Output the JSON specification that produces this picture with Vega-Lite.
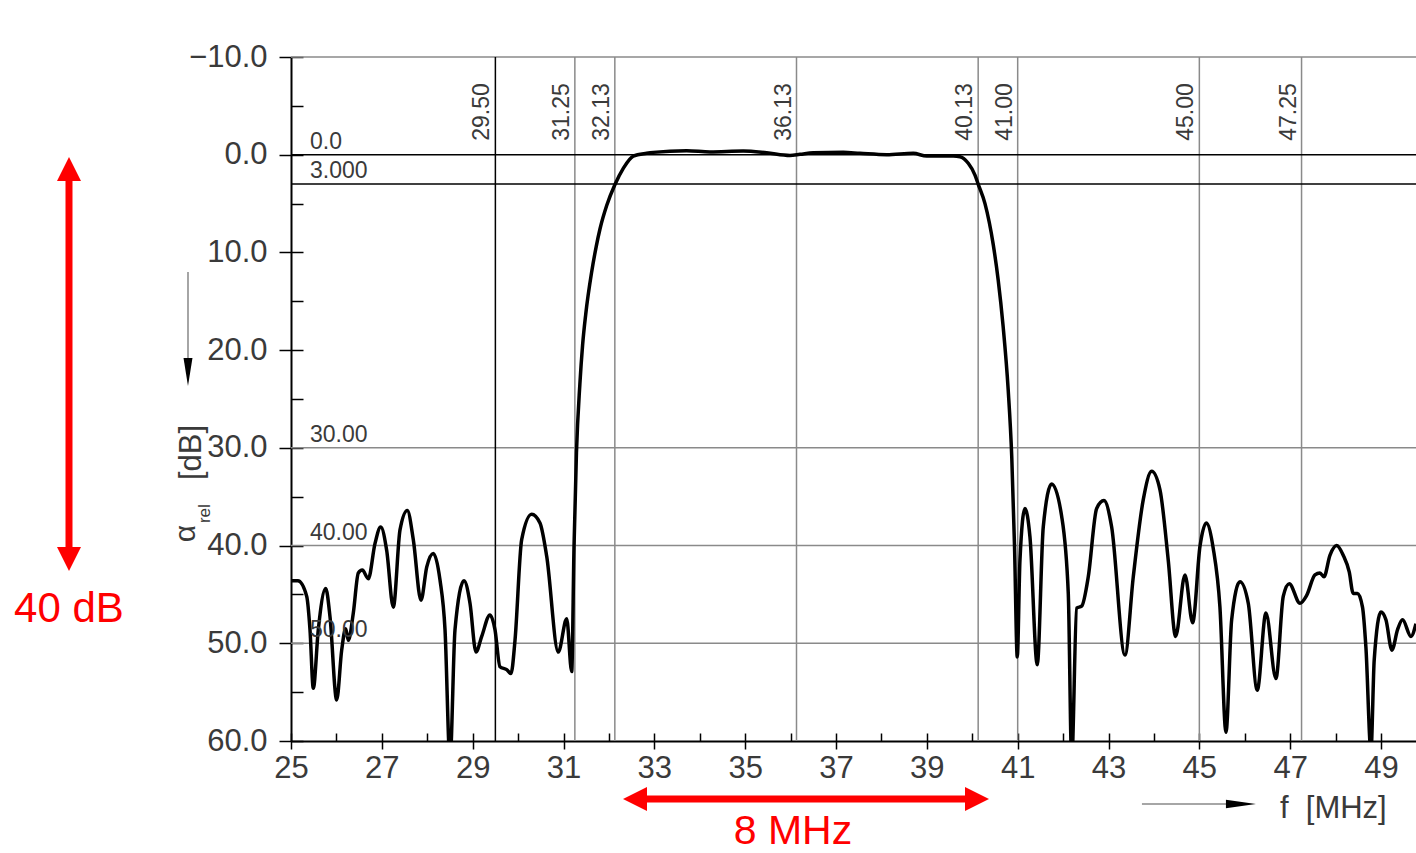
{
  "$schema": "https://vega.github.io/schema/vega-lite/v6.json",
  "width": 1125,
  "height": 684,
  "autosize": {"type": "none"},
  "padding": {"left": 291, "top": 57, "right": 0, "bottom": 112},
  "background": "white",
  "config": {"view": {"stroke": null}, "font": "Liberation Sans"},
  "resolve": {"axis": {"x": "independent", "y": "independent"}},
  "datasets": {
    "curve": [
      {"f": 25.0, "db": 43.6}, {"f": 25.154, "db": 43.6}, {"f": 25.346, "db": 45.2}, {"f": 25.418, "db": 48.6},
      {"f": 25.491, "db": 54.6}, {"f": 25.601, "db": 48.6}, {"f": 25.764, "db": 44.4}, {"f": 25.859, "db": 47.3},
      {"f": 26.006, "db": 55.8}, {"f": 26.116, "db": 50.7}, {"f": 26.204, "db": 48.5}, {"f": 26.262, "db": 49.7},
      {"f": 26.372, "db": 46.9}, {"f": 26.482, "db": 42.8}, {"f": 26.57, "db": 42.5}, {"f": 26.702, "db": 43.4},
      {"f": 26.849, "db": 39.8}, {"f": 26.975, "db": 38.1}, {"f": 27.107, "db": 40.5}, {"f": 27.252, "db": 46.3},
      {"f": 27.4, "db": 38.4}, {"f": 27.561, "db": 36.4}, {"f": 27.693, "db": 39.4}, {"f": 27.862, "db": 45.6},
      {"f": 27.988, "db": 42.2}, {"f": 28.133, "db": 40.8}, {"f": 28.28, "db": 43.5}, {"f": 28.391, "db": 48.6},
      {"f": 28.501, "db": 62}, {"f": 28.611, "db": 48.6}, {"f": 28.809, "db": 43.6}, {"f": 28.941, "db": 45.9},
      {"f": 29.073, "db": 50.9}, {"f": 29.199, "db": 49.3}, {"f": 29.381, "db": 47.1}, {"f": 29.491, "db": 48.6},
      {"f": 29.601, "db": 52.4}, {"f": 29.749, "db": 52.7}, {"f": 29.844, "db": 53.1}, {"f": 29.932, "db": 49.7},
      {"f": 30.079, "db": 39.4}, {"f": 30.299, "db": 36.8}, {"f": 30.482, "db": 37.7}, {"f": 30.63, "db": 41.1},
      {"f": 30.885, "db": 50.9}, {"f": 31.07, "db": 47.5}, {"f": 31.18, "db": 52.9}, {"f": 31.231, "db": 40.2},
      {"f": 31.285, "db": 30.5}, {"f": 31.36, "db": 23.5}, {"f": 31.42, "db": 19.5}, {"f": 31.49, "db": 16.3},
      {"f": 31.62, "db": 12.0}, {"f": 31.72, "db": 9.4}, {"f": 31.803, "db": 7.6}, {"f": 31.951, "db": 5.2},
      {"f": 32.133, "db": 3.05}, {"f": 32.316, "db": 1.4},
      {"f": 32.536, "db": 0.14}, {"f": 32.831, "db": -0.15}, {"f": 32.977, "db": -0.24}, {"f": 33.712, "db": -0.41},
      {"f": 34.225, "db": -0.28}, {"f": 34.958, "db": -0.38}, {"f": 35.473, "db": -0.2}, {"f": 35.986, "db": 0.07},
      {"f": 36.206, "db": -0.04}, {"f": 36.499, "db": -0.2}, {"f": 37.16, "db": -0.24}, {"f": 37.527, "db": -0.14},
      {"f": 38.115, "db": 0.0}, {"f": 38.701, "db": -0.14}, {"f": 38.996, "db": 0.14}, {"f": 39.582, "db": 0.14},
      {"f": 39.729, "db": 0.2}, {"f": 39.912, "db": 0.88}, {"f": 40.06, "db": 2.08}, {"f": 40.132, "db": 3.03},
      {"f": 40.28, "db": 5.0}, {"f": 40.462, "db": 9.2}, {"f": 40.57, "db": 12.8}, {"f": 40.68, "db": 17.6},
      {"f": 40.79, "db": 24.0}, {"f": 40.87, "db": 31.0}, {"f": 40.93, "db": 40.0}, {"f": 40.991, "db": 51.4},
      {"f": 41.05, "db": 41.5}, {"f": 41.16, "db": 36.2}, {"f": 41.27, "db": 39.1}, {"f": 41.431, "db": 52.2},
      {"f": 41.563, "db": 38.1}, {"f": 41.748, "db": 33.7}, {"f": 41.968, "db": 37.0}, {"f": 42.114, "db": 44.9},
      {"f": 42.189, "db": 62}, {"f": 42.299, "db": 46.4}, {"f": 42.409, "db": 46.2}, {"f": 42.554, "db": 43.2},
      {"f": 42.739, "db": 36.2}, {"f": 42.9, "db": 35.4}, {"f": 43.069, "db": 38.1}, {"f": 43.362, "db": 51.2},
      {"f": 43.545, "db": 43.2}, {"f": 43.765, "db": 35.3}, {"f": 43.95, "db": 32.4}, {"f": 44.133, "db": 34.3},
      {"f": 44.315, "db": 41.5}, {"f": 44.478, "db": 49.3}, {"f": 44.683, "db": 43.0}, {"f": 44.852, "db": 47.9},
      {"f": 45.013, "db": 40.1}, {"f": 45.152, "db": 37.7}, {"f": 45.306, "db": 40.3}, {"f": 45.453, "db": 46.3},
      {"f": 45.586, "db": 59.1}, {"f": 45.711, "db": 47.6}, {"f": 45.894, "db": 43.7}, {"f": 46.077, "db": 45.9},
      {"f": 46.275, "db": 54.8}, {"f": 46.466, "db": 46.9}, {"f": 46.686, "db": 53.6}, {"f": 46.847, "db": 45.2},
      {"f": 46.979, "db": 43.9}, {"f": 47.215, "db": 45.9}, {"f": 47.362, "db": 45.1}, {"f": 47.545, "db": 43.0},
      {"f": 47.655, "db": 42.8}, {"f": 47.743, "db": 43.2}, {"f": 47.875, "db": 41.0}, {"f": 48.023, "db": 40.0},
      {"f": 48.168, "db": 41.0}, {"f": 48.3, "db": 42.7}, {"f": 48.388, "db": 44.9}, {"f": 48.482, "db": 44.9},
      {"f": 48.592, "db": 46.3}, {"f": 48.667, "db": 50.4}, {"f": 48.778, "db": 61}, {"f": 48.85, "db": 51.7},
      {"f": 48.998, "db": 46.8}, {"f": 49.108, "db": 47.6}, {"f": 49.24, "db": 50.7}, {"f": 49.364, "db": 48.6},
      {"f": 49.474, "db": 47.6}, {"f": 49.659, "db": 49.3}, {"f": 49.769, "db": 48.0}
    ],
    "hgray": [{"v": -10}, {"v": 30}, {"v": 40}, {"v": 50}],
    "hblack": [{"v": 0}, {"v": 3}],
    "hlab": [{"v": 0, "t": "0.0"}, {"v": 3, "t": "3.000"}, {"v": 30, "t": "30.00"}, {"v": 40, "t": "40.00"}, {"v": 50, "t": "50.00"}],
    "vgray": [{"f": 31.25}, {"f": 32.13}, {"f": 36.13}, {"f": 40.13}, {"f": 41.0}, {"f": 45.0}, {"f": 47.25}],
    "vblack": [{"f": 29.5}],
    "vlab": [{"f": 29.5, "t": "29.50"}, {"f": 31.25, "t": "31.25"}, {"f": 32.13, "t": "32.13"}, {"f": 36.13, "t": "36.13"}, {"f": 40.13, "t": "40.13"}, {"f": 41.0, "t": "41.00"}, {"f": 45.0, "t": "45.00"}, {"f": 47.25, "t": "47.25"}]
  },
  "layer": [
    {
      "data": {"name": "hgray"},
      "mark": {"type": "rule", "color": "#8a8a8a", "strokeWidth": 1.5},
      "encoding": {"y": {"field": "v", "type": "quantitative", "axis": null,
        "scale": {"domain": [-10, 60], "nice": false, "zero": false, "reverse": true}}}
    },
    {
      "data": {"name": "vgray"},
      "mark": {"type": "rule", "color": "#8a8a8a", "strokeWidth": 1.5},
      "encoding": {"x": {"field": "f", "type": "quantitative", "axis": null,
        "scale": {"domain": [25, 49.77], "nice": false, "zero": false}}}
    },
    {
      "data": {"name": "hblack"},
      "mark": {"type": "rule", "color": "#000", "strokeWidth": 1.5},
      "encoding": {"y": {"field": "v", "type": "quantitative", "axis": null}}
    },
    {
      "data": {"name": "vblack"},
      "mark": {"type": "rule", "color": "#000", "strokeWidth": 1.5},
      "encoding": {"x": {"field": "f", "type": "quantitative", "axis": null}}
    },
    {
      "data": {"name": "curve"},
      "mark": {"type": "line", "color": "#000", "strokeWidth": 3.5, "interpolate": "monotone", "clip": true},
      "encoding": {
        "x": {"field": "f", "type": "quantitative",
          "scale": {"domain": [25, 49.77], "nice": false, "zero": false},
          "axis": {"orient": "bottom", "values": [25, 27, 29, 31, 33, 35, 37, 39, 41, 43, 45, 47, 49], "format": "d", "title": null, "grid": false,
            "domainColor": "#000", "domainWidth": 2, "tickColor": "#000", "tickWidth": 1.5, "tickSize": 8,
            "labelFont": "Liberation Sans", "labelFontSize": 31, "labelColor": "#3a3a3a", "labelPadding": 4,
            "labelFlush": false, "labelOverlap": false, "labelBound": false}},
        "y": {"field": "db", "type": "quantitative",
          "scale": {"domain": [-10, 60], "nice": false, "zero": false, "reverse": true},
          "axis": {"orient": "left", "values": [-10, 0, 10, 20, 30, 40, 50, 60], "format": ".1f", "title": null, "grid": false,
            "domainColor": "#000", "domainWidth": 2, "tickColor": "#000", "tickWidth": 1.5, "tickSize": 12,
            "labelFont": "Liberation Sans", "labelFontSize": 31, "labelColor": "#3a3a3a", "labelPadding": 12,
            "labelFlush": false, "labelOverlap": false, "labelBound": false}}
      }
    },
    {
      "data": {"name": "hlab"},
      "mark": {"type": "text", "align": "left", "baseline": "alphabetic", "dx": 19, "dy": -6, "font": "Liberation Sans", "fontSize": 23, "fill": "#3a3a3a"},
      "encoding": {
        "x": {"datum": 25, "type": "quantitative",
          "axis": {"orient": "bottom", "values": [25, 26, 27, 28, 29, 30, 31, 32, 33, 34, 35, 36, 37, 38, 39, 40, 41, 42, 43, 44, 45, 46, 47, 48, 49],
            "tickSize": -8, "tickColor": "#000", "tickWidth": 1.5, "labels": false, "domain": false, "grid": false, "title": null}},
        "y": {"field": "v", "type": "quantitative",
          "axis": {"orient": "left", "values": [-10, -5, 0, 5, 10, 15, 20, 25, 30, 35, 40, 45, 50, 55, 60],
            "tickSize": -12, "tickColor": "#000", "tickWidth": 1.5, "labels": false, "domain": false, "grid": false, "title": null}},
        "text": {"field": "t"}
      }
    },
    {
      "data": {"name": "vlab"},
      "mark": {"type": "text", "angle": 270, "align": "left", "baseline": "alphabetic", "dx": 14, "dy": -6, "font": "Liberation Sans", "fontSize": 23, "fill": "#3a3a3a"},
      "encoding": {
        "x": {"field": "f", "type": "quantitative", "axis": null},
        "y": {"datum": 0, "type": "quantitative", "axis": null},
        "text": {"field": "t"}
      }
    },
    {
      "data": {"values": [{}]},
      "mark": {"type": "rule", "color": "#ff0000", "strokeWidth": 7, "strokeCap": "butt"},
      "encoding": {"x": {"datum": 20.112, "type": "quantitative", "axis": null}, "y": {"datum": 2.6, "type": "quantitative", "axis": null}, "y2": {"datum": 40.26}}
    },
    {
      "data": {"values": [{}]},
      "mark": {"type": "point", "shape": "M0,0L1,2L-1,2Z", "size": 576, "filled": true, "opacity": 1, "color": "#ff0000", "strokeWidth": 0},
      "encoding": {"x": {"datum": 20.112, "type": "quantitative", "axis": null}, "y": {"datum": 0.235, "type": "quantitative", "axis": null}}
    },
    {
      "data": {"values": [{}]},
      "mark": {"type": "point", "shape": "M0,0L1,-2L-1,-2Z", "size": 576, "filled": true, "opacity": 1, "color": "#ff0000", "strokeWidth": 0},
      "encoding": {"x": {"datum": 20.112, "type": "quantitative", "axis": null}, "y": {"datum": 42.6, "type": "quantitative", "axis": null}}
    },
    {
      "data": {"values": [{}]},
      "mark": {"type": "rule", "color": "#ff0000", "strokeWidth": 7, "strokeCap": "butt"},
      "encoding": {"x": {"datum": 32.816, "type": "quantitative", "axis": null}, "x2": {"datum": 39.861}, "y": {"datum": 65.94, "type": "quantitative", "axis": null}}
    },
    {
      "data": {"values": [{}]},
      "mark": {"type": "point", "shape": "M0,0L2,-1L2,1Z", "size": 576, "filled": true, "opacity": 1, "color": "#ff0000", "strokeWidth": 0},
      "encoding": {"x": {"datum": 32.31, "type": "quantitative", "axis": null}, "y": {"datum": 65.94, "type": "quantitative", "axis": null}}
    },
    {
      "data": {"values": [{}]},
      "mark": {"type": "point", "shape": "M0,0L-2,-1L-2,1Z", "size": 576, "filled": true, "opacity": 1, "color": "#ff0000", "strokeWidth": 0},
      "encoding": {"x": {"datum": 40.368, "type": "quantitative", "axis": null}, "y": {"datum": 65.94, "type": "quantitative", "axis": null}}
    },
    {
      "data": {"values": [{"t": "40 dB"}]},
      "mark": {"type": "text", "align": "center", "baseline": "alphabetic", "font": "Liberation Sans", "fontSize": 42, "fill": "#ff0000"},
      "encoding": {"x": {"datum": 20.112, "type": "quantitative", "axis": null}, "y": {"datum": 47.83, "type": "quantitative", "axis": null}, "text": {"field": "t"}}
    },
    {
      "data": {"values": [{"t": "8 MHz"}]},
      "mark": {"type": "text", "align": "center", "baseline": "alphabetic", "font": "Liberation Sans", "fontSize": 41, "fill": "#ff0000"},
      "encoding": {"x": {"datum": 36.052, "type": "quantitative", "axis": null}, "y": {"datum": 70.5, "type": "quantitative", "axis": null}, "text": {"field": "t"}}
    },
    {
      "data": {"values": [{}]},
      "mark": {"type": "rule", "color": "#888", "strokeWidth": 1.5, "strokeCap": "butt"},
      "encoding": {"x": {"datum": 22.732, "type": "quantitative", "axis": null}, "y": {"datum": 12.0, "type": "quantitative", "axis": null}, "y2": {"datum": 21.2}}
    },
    {
      "data": {"values": [{}]},
      "mark": {"type": "point", "shape": "M0,0L0.32,-2L-0.32,-2Z", "size": 784, "filled": true, "opacity": 1, "color": "#000", "strokeWidth": 0},
      "encoding": {"x": {"datum": 22.732, "type": "quantitative", "axis": null}, "y": {"datum": 23.67, "type": "quantitative", "axis": null}}
    },
    {
      "data": {"values": [{"t": "α"}]},
      "mark": {"type": "text", "angle": 270, "align": "left", "baseline": "alphabetic", "font": "Liberation Sans", "fontSize": 30, "fill": "#3a3a3a"},
      "encoding": {"x": {"datum": 22.886, "type": "quantitative", "axis": null}, "y": {"datum": 39.66, "type": "quantitative", "axis": null}, "text": {"field": "t"}}
    },
    {
      "data": {"values": [{"t": "rel"}]},
      "mark": {"type": "text", "angle": 270, "align": "left", "baseline": "alphabetic", "font": "Liberation Sans", "fontSize": 17, "fill": "#3a3a3a"},
      "encoding": {"x": {"datum": 23.217, "type": "quantitative", "axis": null}, "y": {"datum": 37.7, "type": "quantitative", "axis": null}, "text": {"field": "t"}}
    },
    {
      "data": {"values": [{"t": "[dB]"}]},
      "mark": {"type": "text", "angle": 270, "align": "left", "baseline": "alphabetic", "font": "Liberation Sans", "fontSize": 31, "fill": "#3a3a3a"},
      "encoding": {"x": {"datum": 23.008, "type": "quantitative", "axis": null}, "y": {"datum": 33.3, "type": "quantitative", "axis": null}, "text": {"field": "t"}}
    },
    {
      "data": {"values": [{}]},
      "mark": {"type": "rule", "color": "#888", "strokeWidth": 1.5, "strokeCap": "butt"},
      "encoding": {"x": {"datum": 43.736, "type": "quantitative", "axis": null}, "x2": {"datum": 45.7}, "y": {"datum": 66.45, "type": "quantitative", "axis": null}}
    },
    {
      "data": {"values": [{}]},
      "mark": {"type": "point", "shape": "M0,0L-2,-0.28L-2,0.28Z", "size": 900, "filled": true, "opacity": 1, "color": "#000", "strokeWidth": 0},
      "encoding": {"x": {"datum": 46.246, "type": "quantitative", "axis": null}, "y": {"datum": 66.45, "type": "quantitative", "axis": null}}
    },
    {
      "data": {"values": [{"t": "f\u00a0\u00a0[MHz]"}]},
      "mark": {"type": "text", "align": "left", "baseline": "alphabetic", "font": "Liberation Sans", "fontSize": 31, "fill": "#3a3a3a"},
      "encoding": {"x": {"datum": 46.774, "type": "quantitative", "axis": null}, "y": {"datum": 67.9, "type": "quantitative", "axis": null}, "text": {"field": "t"}}
    }
  ]
}
